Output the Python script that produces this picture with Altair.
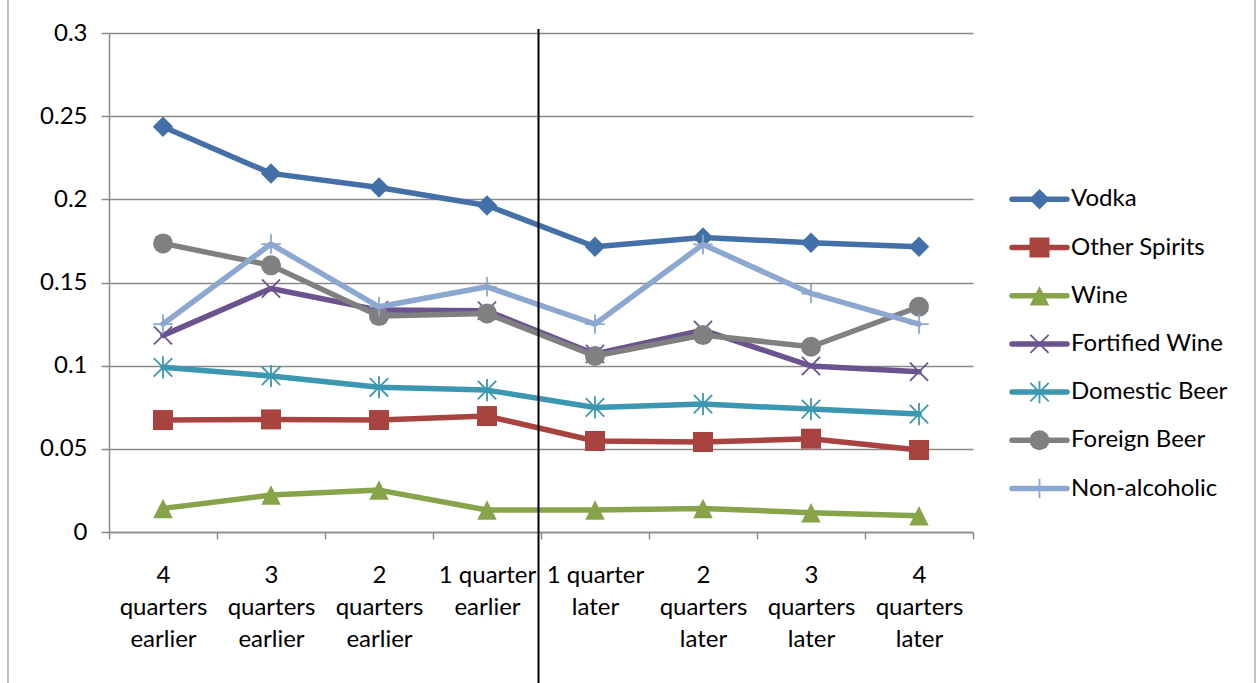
import altair as alt
import pandas as pd

# Quarters relative to the event; "\n" marks where the axis label wraps
periods = [
    "4\nquarters\nearlier", "3\nquarters\nearlier", "2\nquarters\nearlier", "1 quarter\nearlier",
    "1 quarter\nlater", "2\nquarters\nlater", "3\nquarters\nlater", "4\nquarters\nlater",
]

series_names = ["Vodka", "Other Spirits", "Wine", "Fortified Wine",
                "Domestic Beer", "Foreign Beer", "Non-alcoholic"]

vodka = [0.2436, 0.2156, 0.2071, 0.1963, 0.1715, 0.1771, 0.1739, 0.1715]
other_spirits = [0.0673, 0.0677, 0.0673, 0.0697, 0.0547, 0.0541, 0.0561, 0.0493]
wine = [0.0142, 0.0222, 0.0252, 0.0132, 0.0132, 0.0142, 0.0116, 0.0098]
fortified_wine = [0.1182, 0.1464, 0.1334, 0.1330, 0.1070, 0.1214, 0.0998, 0.0963]
domestic_beer = [0.0990, 0.0938, 0.0870, 0.0853, 0.0749, 0.0769, 0.0739, 0.0709]
foreign_beer = [0.1735, 0.1603, 0.1298, 0.1314, 0.1058, 0.1184, 0.1114, 0.1354]
non_alcoholic = [0.1250, 0.1731, 0.1354, 0.1474, 0.1250, 0.1729, 0.1434, 0.1250]

y_ticks = [0, 0.05, 0.1, 0.15, 0.2, 0.25, 0.3]

series_values = [vodka, other_spirits, wine, fortified_wine,
                 domestic_beer, foreign_beer, non_alcoholic]

colors = ["#4470A8", "#A9433F", "#87A44A", "#6B5390", "#3C97B0", "#808080", "#8CA7D0"]

# marker: (shape, filled, size, strokeWidth)
markers = [
    ("diamond", True, 420, 0),
    ("square", True, 400, 0),
    ("M0,-1L1,1L-1,1Z", True, 380, 0),
    ("M-1,-1L1,1M-1,1L1,-1", False, 330, 1.8),
    ("M-1,-1L1,1M-1,1L1,-1M0,-1.2L0,1.2", False, 340, 1.8),
    ("circle", True, 400, 0),
    ("M-1,0L1,0M0,-1L0,1", False, 380, 1.8),
]

rows = []
for name, vals in zip(series_names, series_values):
    for p, v in zip(periods, vals):
        rows.append({"period": p, "series": name, "share": v})
df = pd.DataFrame(rows)

FONT = "Lato"
GRID = "#8A8A8A"
LINE_W = 5.5

x_enc = alt.X(
    "period:N",
    sort=periods,
    scale=alt.Scale(type="band", paddingInner=0, paddingOuter=0),
    axis=alt.Axis(
        title=None,
        labelAngle=0,
        labelExpr="split(datum.label, '\\n')",
        labelLineHeight=32,
        labelBaseline="top",
        labelPadding=24,
        labelFont=FONT,
        labelFontSize=24,
        labelColor="black",
        tickBand="extent",
        tickSize=7,
        tickColor=GRID,
        tickWidth=1.5,
        domainColor=GRID,
        domainWidth=1.5,
        grid=False,
    ),
)
y_enc = alt.Y(
    "share:Q",
    scale=alt.Scale(domain=[0, 0.3], nice=False, zero=True),
    axis=alt.Axis(
        title=None,
        values=y_ticks,
        format=".2~f",
        labelFont=FONT,
        labelFontSize=24,
        labelColor="black",
        labelPadding=14,
        tickSize=8,
        tickColor=GRID,
        tickWidth=1.5,
        domainColor=GRID,
        domainWidth=1.5,
        grid=True,
        gridColor=GRID,
        gridWidth=1.5,
    ),
)

layers = []
for name, color, (shape, filled, size, sw) in zip(series_names, colors, markers):
    base = alt.Chart(df).transform_filter(alt.datum.series == name)
    line = base.mark_line(color=color, strokeWidth=LINE_W, strokeJoin="round",
                          strokeCap="round").encode(x=x_enc, y=y_enc)
    point_kwargs = dict(shape=shape, size=size, filled=filled, color=color, opacity=1)
    if not filled:
        point_kwargs["strokeWidth"] = sw
    pts = base.mark_point(**point_kwargs).encode(x=x_enc, y=y_enc)
    layers += [line, pts]

one = pd.DataFrame({"k": [0]})

# Divider between the "earlier" and "later" quarters
divider = alt.Chart(one).mark_rule(color="black", strokeWidth=2).encode(
    x=alt.value(429.5), y=alt.value(-4), y2=alt.value(650)
)
# Chart frame edges
frame_left = alt.Chart(one).mark_rule(color="#9A9A9A", strokeWidth=1.2).encode(
    x=alt.value(-101), y=alt.value(-33), y2=alt.value(650)
)
frame_right = alt.Chart(one).mark_rule(color="#9A9A9A", strokeWidth=1.2).encode(
    x=alt.value(1146), y=alt.value(-33), y2=alt.value(650)
)
layers += [divider, frame_left, frame_right]

# Legend drawn as line + marker + label rows
for i, (name, color, (shape, filled, size, sw)) in enumerate(zip(series_names, colors, markers)):
    ly = 166.3 + 48.2 * i
    layers.append(
        alt.Chart(one).mark_rule(color=color, strokeWidth=LINE_W, strokeCap="round").encode(
            x=alt.value(903), x2=alt.value(958), y=alt.value(ly)
        )
    )
    pk = dict(shape=shape, size=size, filled=filled, color=color, opacity=1)
    if not filled:
        pk["strokeWidth"] = sw
    layers.append(
        alt.Chart(one).mark_point(**pk).encode(x=alt.value(930.5), y=alt.value(ly))
    )
    layers.append(
        alt.Chart(one).mark_text(align="left", baseline="middle", font=FONT,
                                 fontSize=24, color="black").encode(
            x=alt.value(962), y=alt.value(ly), text=alt.value(name)
        )
    )

chart = alt.layer(*layers).properties(
    width=864,
    height=499,
    padding={"left": 109, "top": 33, "right": 284, "bottom": 151},
    autosize=alt.AutoSizeParams(type="none"),
    background="white",
).configure_view(stroke=None)

chart.save("out.html", embed_options={"renderer": "svg", "actions": False})
